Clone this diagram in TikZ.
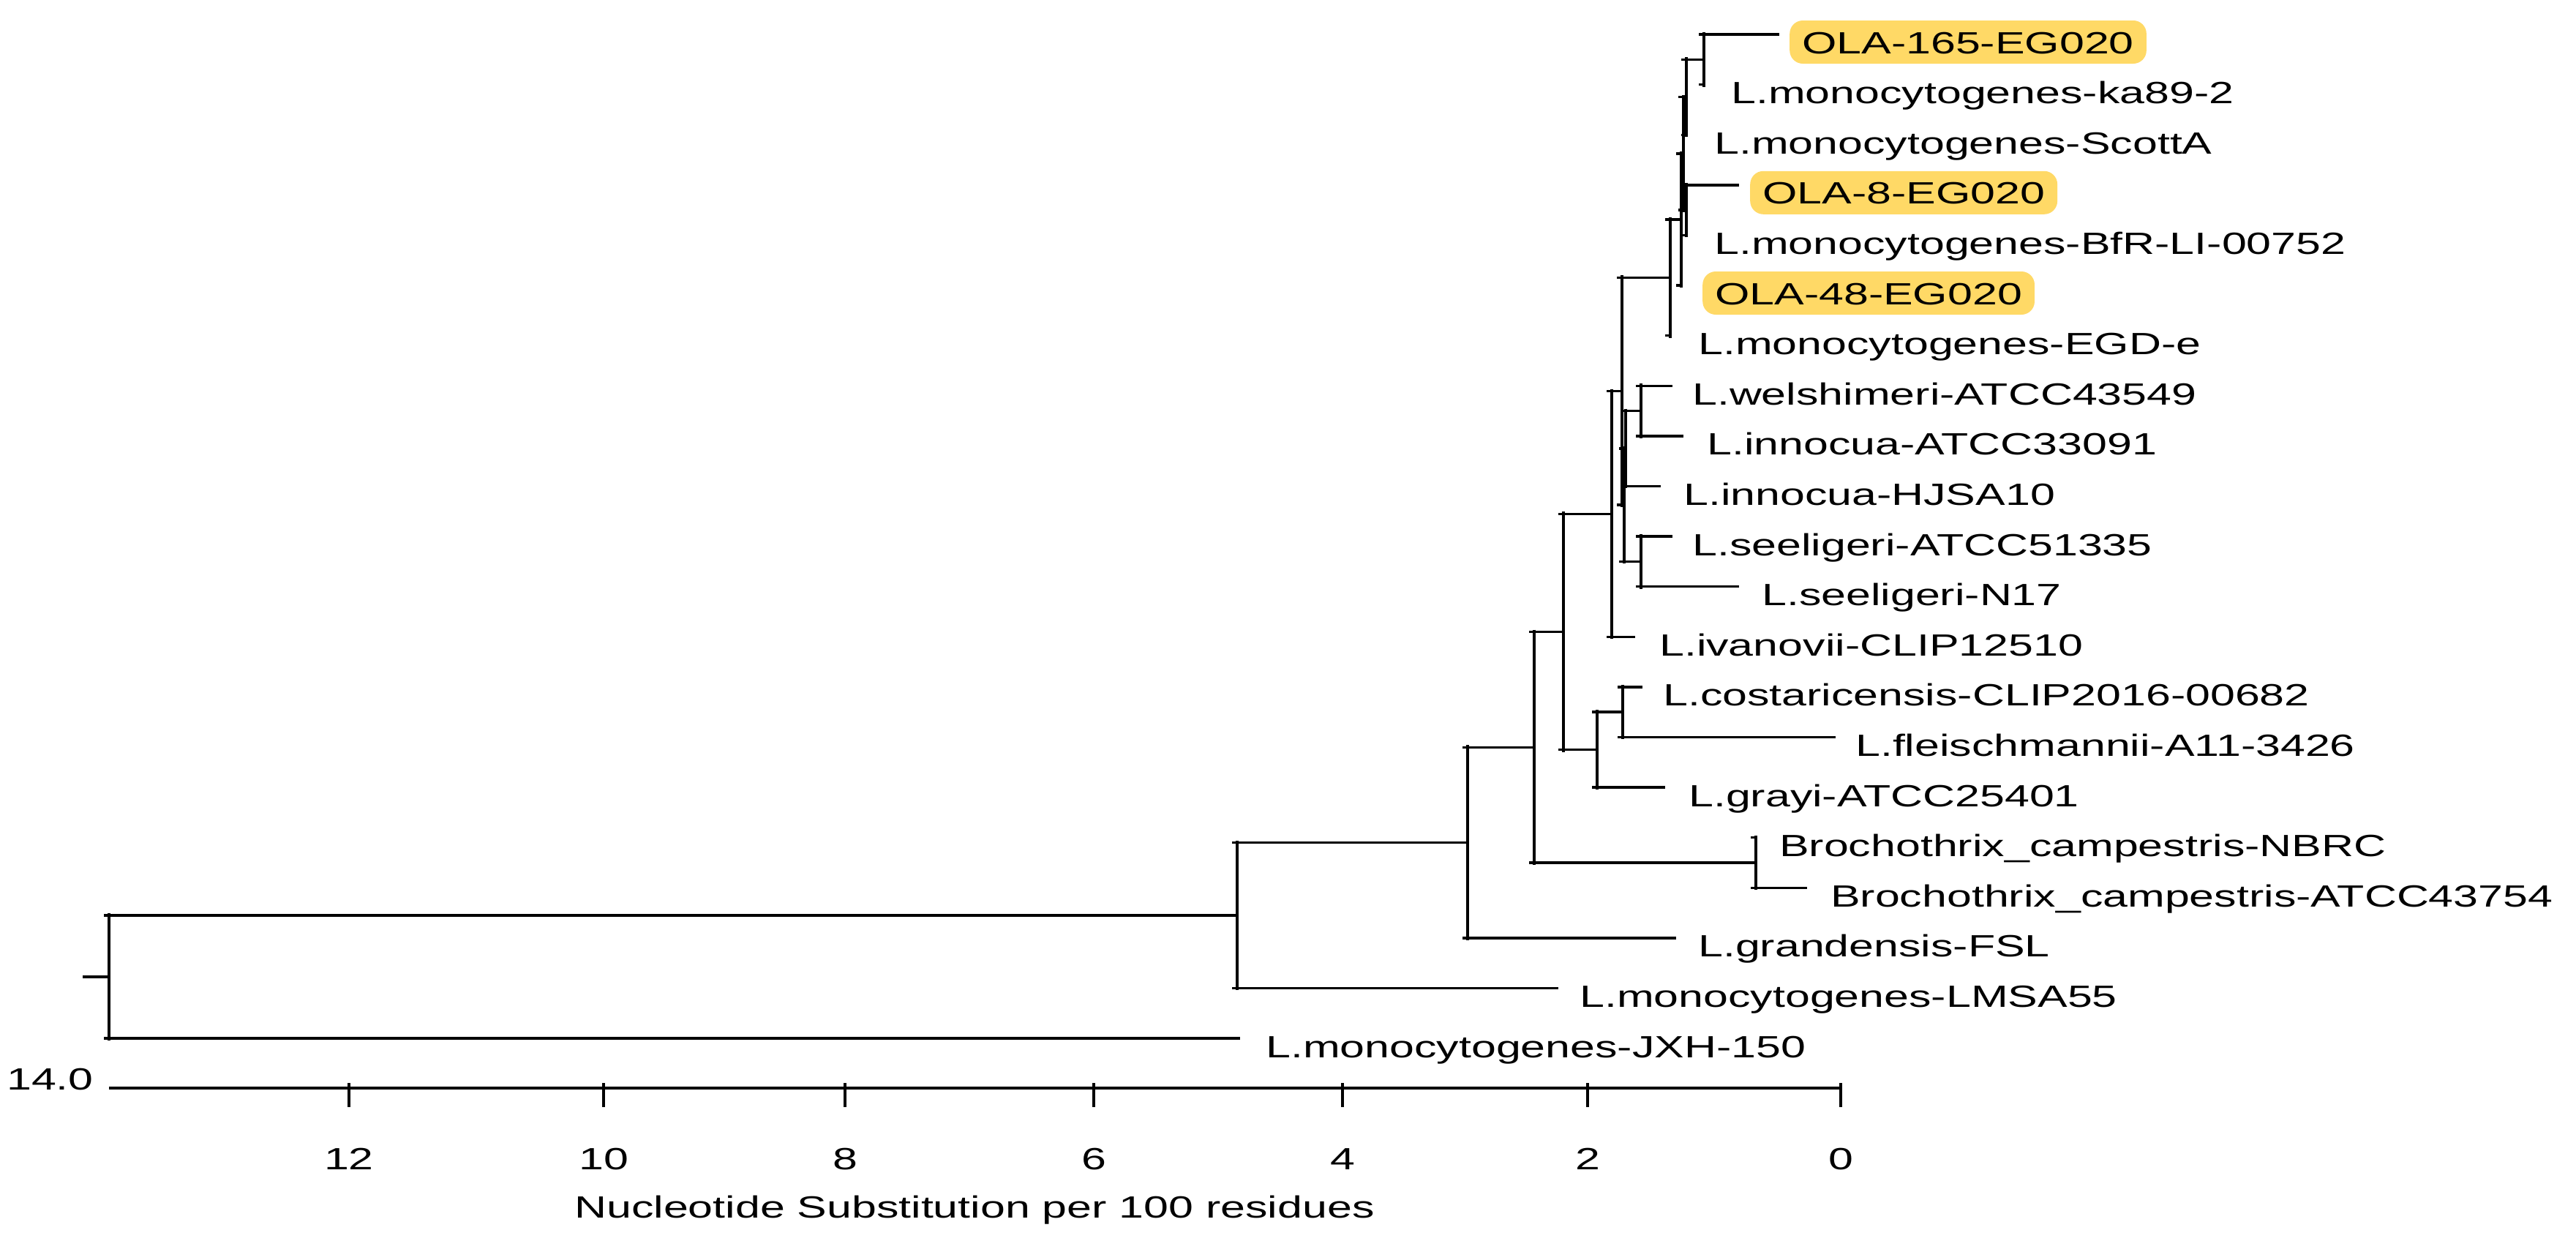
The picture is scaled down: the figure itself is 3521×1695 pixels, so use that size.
\documentclass[tikz,border=0pt]{standalone}
\usepackage{fontspec}
\newfontfamily\treefont[FakeStretch=1.45]{Liberation Sans}
\definecolor{hlc}{RGB}{255,217,102}
\newcommand{\clade}[3]{%
  \draw[vline] (#1 |- #2) -- (#1 |- #3);
  \draw[hline] ([xshift=-7pt]#1 |- #2) -- (#2);
  \draw[hline] ([xshift=-7pt]#1 |- #3) -- (#3);}
\begin{document}
\begin{tikzpicture}[x=1pt,y=-1pt,
  hline/.style={line width=3.4pt},
  vline/.style={line width=4.2pt, shorten <=-3pt, shorten >=-3pt},
  lab/.style={anchor=base west, inner sep=0pt, font={\treefont\fontsize{42pt}{50pt}\selectfont}},
  hlbox/.style={lab, fill=hlc, inner xsep=17pt, text height=45pt, text depth=14pt, rounded corners=18pt},
  num/.style={inner sep=0pt, font={\treefont\fontsize{42pt}{50pt}\selectfont}},
  axisline/.style={line width=3.4pt},
  tickline/.style={line width=3.5pt}]
\fill[white] (0,0) rectangle (3521,1695);
\useasboundingbox (0,0) rectangle (3521,1695);

% leaf ends
\coordinate (l0) at (2432,47.0);
\coordinate (l1) at (2329,115.6);
\coordinate (l2) at (2305,184.2);
\coordinate (l3) at (2377,252.8);
\coordinate (l4) at (2305,321.4);
\coordinate (l5) at (2298,390.0);
\coordinate (l6) at (2283,458.6);
\coordinate (l7) at (2286,527.2);
\coordinate (l8) at (2301,595.8);
\coordinate (l9) at (2270,664.4);
\coordinate (l10) at (2286,733.0);
\coordinate (l11) at (2377,801.6);
\coordinate (l12) at (2235,870.2);
\coordinate (l13) at (2245,938.8);
\coordinate (l14) at (2509,1007.4);
\coordinate (l15) at (2276,1076.0);
\coordinate (l16) at (2400,1144.6);
\coordinate (l17) at (2470,1213.2);
\coordinate (l18) at (2291,1281.8);
\coordinate (l19) at (2130,1350.4);
\coordinate (l20) at (1695,1419.0);

% internal nodes
\coordinate (T1) at (2329,81.3);
\coordinate (T2) at (2305,132.75);
\coordinate (T4) at (2305,287.1);
\coordinate (T3) at (2301,209.9);
\coordinate (T5) at (2298,299.95);
\coordinate (T6) at (2283,379.3);
\coordinate (A) at (2243,561.5);
\coordinate (Z) at (2222,612.95);
\coordinate (B) at (2243,767.3);
\coordinate (Y) at (2220,690.1);
\coordinate (X) at (2217,534.7);
\coordinate (N5) at (2203,702.45);
\coordinate (N8) at (2218,973.1);
\coordinate (N6) at (2183,1024.55);
\coordinate (N4) at (2137,863.5);
\coordinate (Br) at (2400,1178.9);
\coordinate (N3) at (2097,1021.2);
\coordinate (N2) at (2006,1151.5);
\coordinate (N1) at (1691,1250.95);
\coordinate (R) at (149,1335);
\coordinate (R0) at (113,1335);

% highlight labels first (behind lines)
\node[hlbox] (t0) at (2446,73) {OLA-165-EG020};
\node[hlbox] (t3) at (2392,278.8) {OLA-8-EG020};
\node[hlbox] (t5) at (2327,416) {OLA-48-EG020};

% clades
\clade{T1}{l0}{l1}
\clade{T2}{T1}{l2}
\clade{T4}{l3}{l4}
\clade{T3}{T2}{T4}
\clade{T5}{T3}{l5}
\clade{T6}{T5}{l6}
\clade{A}{l7}{l8}
\clade{Z}{A}{l9}
\clade{B}{l10}{l11}
\clade{Y}{Z}{B}
\clade{X}{T6}{Y}
\clade{N5}{X}{l12}
\clade{N8}{l13}{l14}
\clade{N6}{N8}{l15}
\clade{N4}{N5}{N6}
\clade{Br}{l16}{l17}
\clade{N3}{N4}{Br}
\clade{N2}{N3}{l18}
\clade{N1}{N2}{l19}
\clade{R}{N1}{l20}
\draw[hline] (R0) -- (R);

% plain labels
\node[lab] (t1) at (2366,141.6) {L.monocytogenes-ka89-2};
\node[lab] (t2) at (2343,210.2) {L.monocytogenes-ScottA};
\node[lab] (t4) at (2343,347.4) {L.monocytogenes-BfR-LI-00752};
\node[lab] (t6) at (2321,484.6) {L.monocytogenes-EGD-e};
\node[lab] (t7) at (2313,553.2) {L.welshimeri-ATCC43549};
\node[lab] (t8) at (2333,621.8) {L.innocua-ATCC33091};
\node[lab] (t9) at (2301,690.4) {L.innocua-HJSA10};
\node[lab] (t10) at (2313,759.0) {L.seeligeri-ATCC51335};
\node[lab] (t11) at (2408,827.6) {L.seeligeri-N17};
\node[lab] (t12) at (2268,896.2) {L.ivanovii-CLIP12510};
\node[lab] (t13) at (2273,964.8) {L.costaricensis-CLIP2016-00682};
\node[lab] (t14) at (2536,1033.4) {L.fleischmannii-A11-3426};
\node[lab] (t15) at (2308,1102.0) {L.grayi-ATCC25401};
\node[lab] (t16) at (2432,1170.6) {Brochothrix\_campestris-NBRC};
\node[lab] (t17) at (2502,1239.2) {Brochothrix\_campestris-ATCC43754};
\node[lab] (t18) at (2321,1307.8) {L.grandensis-FSL};
\node[lab] (t19) at (2159,1376.4) {L.monocytogenes-LMSA55};
\node[lab] (t20) at (1730,1445.0) {L.monocytogenes-JXH-150};

% scale axis
\coordinate (a14) at (149,1487);
\coordinate (a0) at (2517,1487);
\draw[axisline] (a14) -- (a0);
\foreach \x/\l in {477/12, 825/10, 1155/8, 1495/6, 1835/4, 2170/2, 2516/0} {
  \coordinate (tk\l) at (\x,1480);
  \draw[tickline] (tk\l) -- ++(0,33);
  \node[num] (n\l) at (\x,1584) {\l};
}
\node[num, anchor=east] (n14) at (128,1475) {14.0};
\node[num] (title) at (1332,1654) {Nucleotide Substitution per 100 residues};
\end{tikzpicture}
\end{document}
